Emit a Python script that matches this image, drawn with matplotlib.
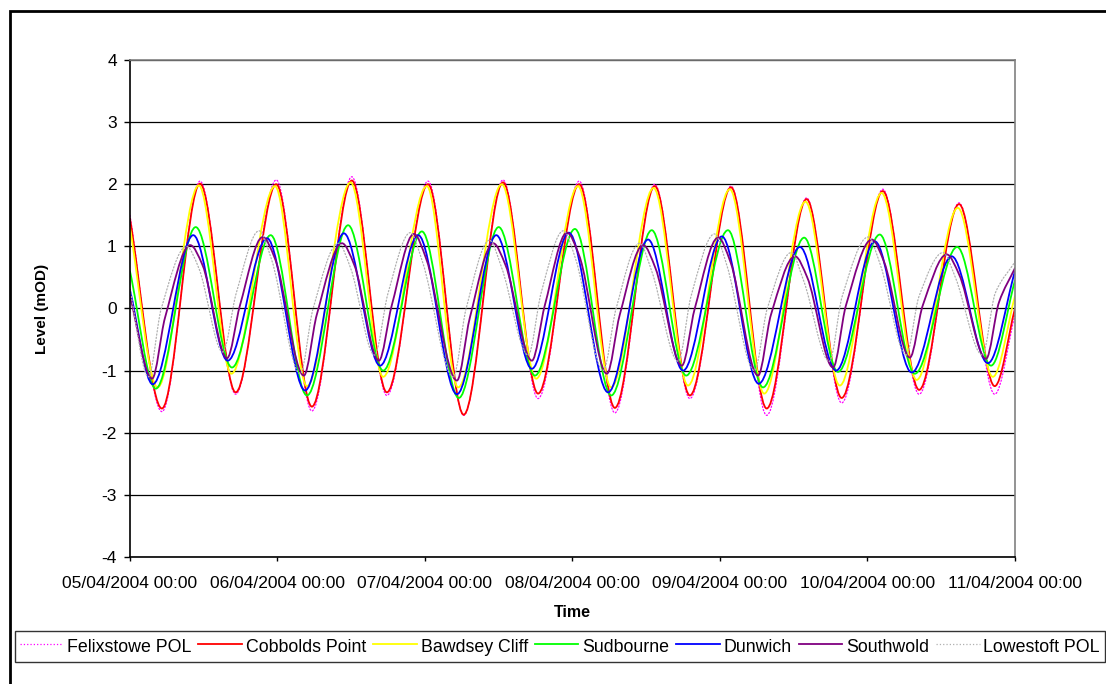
"""
Tide levels along the Suffolk coast, 5-11 April 2004
"""

import pandas as pd
import matplotlib
matplotlib.use('Agg')
import matplotlib.pyplot as plt
import matplotlib.dates as mdates
from matplotlib.patches import Rectangle, PathPatch
from matplotlib.path import Path
from matplotlib.lines import Line2D

plt.rcParams['font.family'] = ['Liberation Sans', 'DejaVu Sans']
plt.rcParams['axes.unicode_minus'] = False

START = pd.Timestamp('2004-04-05 00:00')
END = pd.Timestamp('2004-04-11 00:00')

# hours after 05/04/2004 00:00 and levels (mOD), read at the turning points
cobbolds_t = [0.0, 5.2, 11.4, 17.2, 23.8, 29.6, 36.1, 41.8, 48.5, 54.3, 60.7, 66.4, 73.1,
              78.9, 85.4, 91.1, 97.8, 103.6, 110.1, 115.8, 122.5, 128.4, 134.9, 140.7, 144.0]
cobbolds_lvl = [1.45, -1.61, 2.01, -1.35, 2.0, -1.58, 2.06, -1.35, 2.0, -1.71, 2.03, -1.37, 2.0,
                -1.6, 1.97, -1.4, 1.95, -1.61, 1.76, -1.44, 1.89, -1.31, 1.68, -1.25, 0.0]

felixstowe_t = cobbolds_t
felixstowe_lvl = [1.5, -1.66, 2.05, -1.38, 2.07, -1.65, 2.12, -1.4, 2.05, -1.72, 2.07, -1.45, 2.05,
                  -1.68, 2.0, -1.45, 1.97, -1.72, 1.78, -1.52, 1.92, -1.38, 1.7, -1.38, -0.1]

bawdsey_t = [0.0, 4.5, 11.2, 16.5, 23.6, 28.8, 35.9, 41.2, 48.3, 53.4, 60.5, 66.1, 72.9,
             78.3, 85.2, 90.8, 97.6, 103.2, 109.9, 115.5, 122.3, 128.0, 134.7, 140.4, 144.0]
bawdsey_lvl = [1.3, -1.27, 1.98, -1.05, 1.97, -1.25, 2.03, -1.1, 1.97, -1.27, 2.0, -1.13, 1.97,
               -1.27, 1.94, -1.24, 1.92, -1.37, 1.72, -1.24, 1.86, -1.15, 1.62, -1.1, 0.2]

sudbourne_t = [0.0, 4.2, 10.7, 16.6, 22.9, 28.8, 35.5, 41.2, 47.5, 53.5, 60.0, 65.9, 72.4,
               78.3, 84.9, 90.5, 97.3, 103.0, 109.7, 115.2, 122.0, 127.7, 134.6, 140.1, 144.0]
sudbourne_lvl = [0.6, -1.29, 1.31, -0.95, 1.18, -1.4, 1.34, -1.0, 1.24, -1.44, 1.31, -1.08, 1.28,
                 -1.4, 1.26, -1.08, 1.26, -1.27, 1.14, -1.02, 1.19, -1.05, 0.99, -0.92, 0.45]

dunwich_t = [0.0, 3.7, 10.3, 15.9, 22.3, 28.5, 34.8, 40.7, 46.9, 53.2, 59.6, 65.4, 71.4,
             77.8, 84.3, 90.0, 96.3, 102.3, 109.0, 114.9, 121.2, 127.2, 133.7, 139.6, 144.0]
dunwich_lvl = [0.3, -1.22, 1.18, -0.84, 1.13, -1.32, 1.21, -0.92, 1.18, -1.38, 1.18, -0.97, 1.22,
               -1.35, 1.11, -1.0, 1.16, -1.21, 0.99, -1.0, 1.08, -1.03, 0.84, -0.88, 0.6]

southwold_t = [0.0, 3.6, 5.7, 9.8, 11.8, 15.8, 17.9, 21.6, 23.6, 28.3, 30.4, 34.5, 36.5,
               40.5, 42.6, 46.2, 48.2, 53.2, 55.3, 59.1, 61.1, 65.4, 67.5, 71.1, 73.1,
               77.6, 79.7, 83.5, 85.5, 89.8, 91.9, 95.7, 97.7, 102.2, 104.3, 108.2, 110.2,
               114.4, 116.5, 120.7, 122.7, 126.9, 129.0, 132.9, 134.9, 139.3, 141.4, 144.0]
southwold_lvl = [0.2, -1.13, -0.15, 1.02, 0.7, -0.8, 0.05, 1.15, 0.8, -1.08, -0.1, 1.05, 0.7,
                 -0.84, 0.05, 1.2, 0.8, -1.16, -0.15, 1.05, 0.7, -0.84, 0.05, 1.22, 0.85,
                 -1.05, -0.1, 1.02, 0.65, -0.92, 0.0, 1.14, 0.75, -1.08, -0.1, 0.84, 0.5,
                 -0.95, 0.05, 1.11, 0.75, -0.79, 0.05, 0.87, 0.55, -0.81, 0.1, 0.65]

lowestoft_t = [0.0, 3.0, 5.1, 9.2, 11.2, 15.1, 17.3, 21.0, 23.0, 27.7, 29.8, 33.9, 35.9,
               39.8, 42.0, 45.6, 47.6, 52.6, 54.7, 58.5, 60.5, 64.8, 66.9, 70.5, 72.5,
               77.0, 79.1, 82.9, 84.9, 89.2, 91.3, 95.1, 97.1, 101.6, 103.7, 107.6, 109.6,
               113.8, 115.9, 120.1, 122.1, 126.3, 128.4, 132.3, 134.3, 138.7, 140.8, 144.0]
lowestoft_lvl = [0.3, -1.1, 0.0, 1.0, 0.65, -0.7, 0.25, 1.25, 0.8, -1.05, 0.0, 1.05, 0.65,
                 -0.75, 0.25, 1.22, 0.75, -1.1, 0.0, 1.1, 0.65, -0.75, 0.25, 1.25, 0.8,
                 -1.0, 0.0, 1.05, 0.6, -0.85, 0.2, 1.2, 0.7, -1.0, 0.0, 0.9, 0.45,
                 -0.85, 0.2, 1.15, 0.7, -0.75, 0.2, 0.9, 0.5, -0.75, 0.25, 0.75]

series = [
    ('Felixstowe POL', felixstowe_t, felixstowe_lvl, '#FF00FF', ':', 0.9),
    ('Cobbolds Point', cobbolds_t, cobbolds_lvl, '#FF0000', '-', 1.3),
    ('Bawdsey Cliff', bawdsey_t, bawdsey_lvl, '#FFFF00', '-', 1.3),
    ('Sudbourne', sudbourne_t, sudbourne_lvl, '#00FF00', '-', 1.3),
    ('Dunwich', dunwich_t, dunwich_lvl, '#0000FF', '-', 1.3),
    ('Southwold', southwold_t, southwold_lvl, '#800080', '-', 1.3),
    ('Lowestoft POL', lowestoft_t, lowestoft_lvl, '#B0B0B0', ':', 0.9),
]


def tide_path(x, y):
    """Smooth path through the read points (flat at highs and lows)"""
    n = len(x)
    slopes = []
    for i in range(n):
        if i == 0:
            slopes.append((y[1] - y[0]) / (x[1] - x[0]))
        elif i == n - 1:
            slopes.append((y[-1] - y[-2]) / (x[-1] - x[-2]))
        else:
            d0 = (y[i] - y[i - 1]) / (x[i] - x[i - 1])
            d1 = (y[i + 1] - y[i]) / (x[i + 1] - x[i])
            if d0 * d1 <= 0:
                slopes.append(0.0)
            else:
                slopes.append(2 / (1 / d0 + 1 / d1))
    verts = [(x[0], y[0])]
    codes = [Path.MOVETO]
    for i in range(n - 1):
        h = (x[i + 1] - x[i]) / 3
        verts += [(x[i] + h, y[i] + slopes[i] * h),
                  (x[i + 1] - h, y[i + 1] - slopes[i + 1] * h),
                  (x[i + 1], y[i + 1])]
        codes += [Path.CURVE4] * 3
    return Path(verts, codes)


def main():
    fig = plt.figure(figsize=(11.06, 6.84), dpi=100)
    ax = fig.add_axes([0.1175, 0.1857, 0.8002, 0.7266])

    handles = []
    for name, hrs, lvl, col, ls, lw in series:
        times = [START + pd.Timedelta(hours=h) for h in hrs]
        xnum = list(mdates.date2num(times))
        ax.add_patch(PathPatch(tide_path(xnum, lvl), fill=False, edgecolor=col,
                               linestyle=ls, linewidth=lw, capstyle='round', joinstyle='round'))
        handles.append(Line2D([], [], color=col, linestyle=ls, linewidth=lw, label=name))

    ax.set_xlim(START, END)
    ax.set_ylim(-4, 4)
    ax.set_yticks(range(-4, 5))
    ax.xaxis.set_major_locator(mdates.DayLocator())
    ax.xaxis.set_major_formatter(mdates.DateFormatter('%d/%m/%Y %H:%M'))
    ax.tick_params(direction='out', width=1, labelsize=12.5, colors='black')
    ax.tick_params(axis='x', length=3, pad=10.5)
    ax.tick_params(axis='y', length=4.5, pad=5)
    ax.grid(True, axis='y', color='black', linewidth=0.9)
    ax.set_axisbelow(True)
    for side in ['left', 'bottom']:
        ax.spines[side].set_color('black')
        ax.spines[side].set_linewidth(1.2)
    for side in ['top', 'right']:
        ax.spines[side].set_color('#808080')
        ax.spines[side].set_linewidth(1.2)

    ax.set_xlabel('Time', fontsize=11.5, fontweight='bold')
    ax.set_ylabel('Level (mOD)', fontsize=11, fontweight='bold')
    ax.xaxis.set_label_coords(0.5, -0.0965)
    ax.yaxis.set_label_coords(-0.0915, 0.5)

    leg = fig.legend(handles=handles, loc='upper left', bbox_to_anchor=(15 / 1106, 1 - 631 / 684),
                     ncol=7, fontsize=12.8, frameon=True, fancybox=False,
                     handlelength=2.45, handleheight=1.53, handletextpad=0.22,
                     columnspacing=0.39, borderpad=0.26, borderaxespad=0)
    leg.get_frame().set_edgecolor('black')
    leg.get_frame().set_linewidth(1.0)

    # chart area border
    fig.patches.append(Rectangle((10 / 1106, -0.1), 1.2, 1.1 - 11 / 684, transform=fig.transFigure,
                                 fill=False, edgecolor='black', linewidth=2))

    fig.savefig('out.png', dpi=100)
    plt.close(fig)


if __name__ == "__main__":
    main()
